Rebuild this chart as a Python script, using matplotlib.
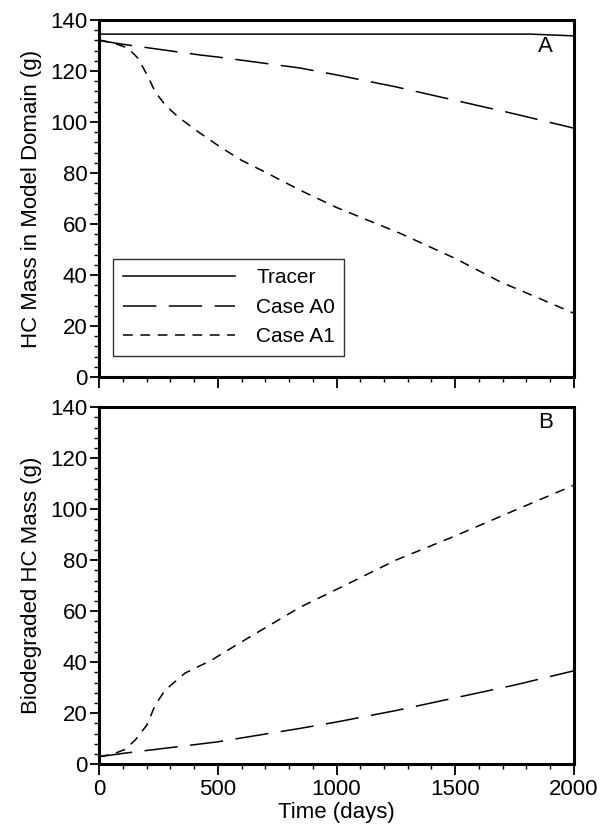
import numpy as np
import matplotlib
matplotlib.use('Agg')
import matplotlib.pyplot as plt
from matplotlib.ticker import MultipleLocator

plt.rcParams['font.family'] = ['Liberation Sans', 'DejaVu Sans']
plt.rcParams['lines.scale_dashes'] = False

# Panel A: HC mass remaining in model domain (g)
tracer_t = [0, 500, 1000, 1500, 1815, 2000]
tracer_m = [134.5, 134.5, 134.5, 134.5, 134.5, 133.8]

a0_t = [0, 100, 200, 425, 500, 846, 1000, 1250, 1500, 1750, 2000]
a0_m = [132, 130.5, 129.2, 126.3, 125.5, 121.2, 118.5, 113.8, 108.5, 103.2, 97.6]

a1_t = [0, 11, 60, 122, 164, 206, 236, 278, 333, 420, 509, 600, 707, 846, 1000, 1267, 1500, 1688, 1850, 2000]
a1_m = [132, 132, 131, 129, 125, 117.8, 111.9, 106.7, 102, 96, 90.3, 85, 80, 73.3, 66.5, 56.4, 46.5, 37.4, 31, 25]

# Panel B: biodegraded HC mass (g)
b0_t = [0, 100, 215, 497, 846, 1000, 1250, 1500, 1750, 2000]
b0_m = [2.9, 4.2, 5.5, 8.7, 14.0, 16.5, 21.0, 26.0, 31.0, 36.6]

b1_t = [0, 60, 110, 152, 201, 236, 278, 362, 474, 601, 846, 1000, 1250, 1500, 1750, 2000]
b1_m = [2.9, 4.0, 5.8, 9.4, 15.3, 23.1, 29.0, 35.7, 40.8, 48.0, 61.5, 68.5, 80.0, 89.5, 99.5, 109.4]

fig = plt.figure(figsize=(6.08, 8.36), dpi=100)
ax1 = fig.add_axes([0.163, 0.549, 0.781, 0.427])
ax2 = fig.add_axes([0.163, 0.086, 0.781, 0.427])

lw = 1.1
long_dash = (0, (24, 9))
short_dash = (0, (7, 5.5))
fs = 16

ax1.plot(tracer_t, tracer_m, color='k', lw=lw, label='Tracer')
ax1.plot(a0_t, a0_m, color='k', lw=lw, linestyle=long_dash, label='Case A0')
ax1.plot(a1_t, a1_m, color='k', lw=lw, linestyle=short_dash, label='Case A1')

ax2.plot(b0_t, b0_m, color='k', lw=lw, linestyle=long_dash)
ax2.plot(b1_t, b1_m, color='k', lw=lw, linestyle=short_dash)

for ax in (ax1, ax2):
    ax.set_xlim(0, 2000)
    ax.set_ylim(0, 140)
    ax.xaxis.set_major_locator(MultipleLocator(500))
    ax.xaxis.set_minor_locator(MultipleLocator(100))
    ax.yaxis.set_major_locator(MultipleLocator(20))
    ax.yaxis.set_minor_locator(MultipleLocator(4))
    ax.tick_params(which='major', direction='out', length=6.5, width=1.3,
                   labelsize=fs, pad=2)
    ax.tick_params(which='minor', direction='out', length=3.5, width=1.0)
    ax.tick_params(axis='x', which='major', length=8, pad=3)
    for s in ax.spines.values():
        s.set_linewidth(2.2)

ax1.tick_params(axis='x', labelbottom=False)

ax1.set_ylabel('HC Mass in Model Domain (g)', fontsize=fs, labelpad=6)
ax2.set_ylabel('Biodegraded HC Mass (g)', fontsize=fs, labelpad=6)
ax2.set_xlabel('Time (days)', fontsize=fs, labelpad=1)

ax1.text(0.94, 0.955, 'A', transform=ax1.transAxes, fontsize=fs, ha='center', va='top')
ax2.text(0.94, 0.985, 'B', transform=ax2.transAxes, fontsize=fs, ha='center', va='top')

leg = ax1.legend(loc='lower left', bbox_to_anchor=(0.03, 0.06), fontsize=15,
                 handlelength=5.4, handletextpad=1.0, borderpad=0.45,
                 labelspacing=0.5, fancybox=False, frameon=True,
                 borderaxespad=0)
leg.get_frame().set_edgecolor('k')
leg.get_frame().set_linewidth(1.0)

fig.savefig('out.png', dpi=100)
